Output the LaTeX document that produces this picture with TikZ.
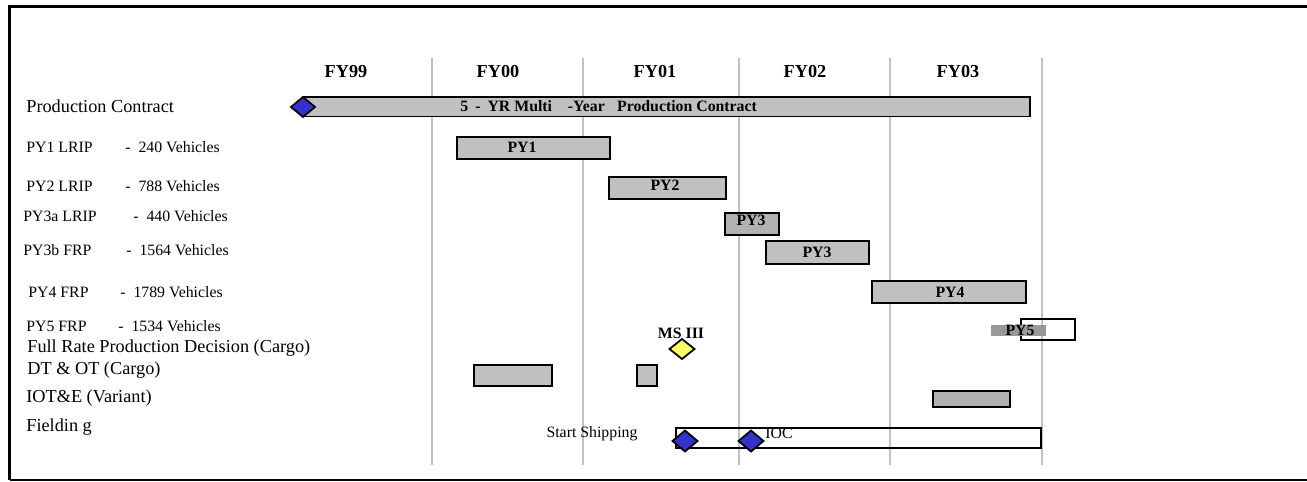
\documentclass[tikz,border=0pt]{standalone}
\usepackage{fontspec}
\setmainfont{Liberation Serif}
\definecolor{barfill}{HTML}{C0C0C0}
\definecolor{bardark}{HTML}{B2B2B2}
\definecolor{pyfive}{HTML}{999999}
\definecolor{gridgray}{HTML}{C0C0C0}
\definecolor{msblue}{HTML}{3333CC}
\definecolor{msyellow}{HTML}{FFFF66}

\begin{document}
\begin{tikzpicture}[
  x=0.02cm,
  y=-0.02cm,
  bar/.style={draw=black, line width=1.1pt, fill=barfill},
  openbar/.style={draw=black, line width=1.1pt},
  milestone/.style={draw=black, line width=1pt, fill=msblue},
  rowlabel/.style={anchor=west, inner sep=0pt, font=\fontsize{10.4}{12}\selectfont},
  pylabel/.style={anchor=west, inner sep=0pt, font=\fontsize{9}{11}\selectfont},
  barlabel/.style={inner sep=0pt, font=\fontsize{9}{11}\selectfont\bfseries},
  note/.style={inner sep=0pt, font=\fontsize{9}{11}\selectfont}
]
\useasboundingbox (0,0) rectangle (1307,481);

% frame
\draw[line width=1.7pt] (9.5,480) -- (9.5,6.5) -- (1307,6.5);
\draw[line width=0.6pt] (9.5,480) -- (1307,480);

% fiscal years
\foreach \x in {432,583,739,890,1042} {
  \draw[gridgray, line width=1pt] (\x,58) -- (\x,465);
}
\foreach \x/\fy in {346/FY99,498/FY00,655/FY01,805/FY02,958/FY03} {
  \node[barlabel, font=\fontsize{10.4}{12}\selectfont\bfseries] (\fy) at (\x,72) {\fy};
}

% row labels
\node[rowlabel] (contract) at (26,106) {Production Contract};
\foreach \n/\y/\lx/\nm/\dx/\cnt in {1/147/26/PY1 LRIP/125/240,
  2/186/26/PY2 LRIP/125/788, 3/216/23/PY3a LRIP/133/440,
  4/250/23/PY3b FRP/126/1564, 5/292/28/PY4 FRP/120/1789,
  6/326/26/PY5 FRP/118/1534} {
  \node[pylabel] (py-name-\n) at (\lx,\y) {\nm};
  \node[pylabel] (py-count-\n) at (\dx,\y) {-\hspace{4.5pt}\cnt{} Vehicles};
}
\node[rowlabel] (decision) at (27,348) {Full Rate Production Decision (Cargo)};
\node[rowlabel] (dtot) at (27,370) {DT \& OT (Cargo)};
\node[rowlabel] (iote) at (26,398) {IOT\&E (Variant)};
\node[rowlabel] (fielding) at (26,427) {Fieldin g};

% production contract
\draw[bar] (303,97) rectangle (1030,116.5);
\draw[milestone, shift={(303,107)}] (-12,0) -- (0,-10) -- (12,0) -- (0,10) -- cycle;
\node[barlabel, anchor=west] (contract-bar) at (460,106)
  {5\hspace{4pt}-\hspace{4pt}YR Multi\hspace{9pt}-Year\hspace{7pt}Production Contract};

% program years
\draw[bar] (457,137) rectangle (610,159);
\node[barlabel] (py1) at (522,147) {PY1};
\draw[bar] (609,177) rectangle (726,199);
\node[barlabel] (py2) at (665,185) {PY2};
\draw[bar, fill=bardark] (725,213) rectangle (779,235);
\node[barlabel] (py3a) at (751,220) {PY3};
\draw[bar] (766,241) rectangle (869,264);
\node[barlabel] (py3b) at (817,252) {PY3};
\draw[bar] (872,281) rectangle (1026,303);
\node[barlabel] (py4) at (950,292) {PY4};
\draw[openbar] (1021,319) rectangle (1075,340);
\fill[pyfive] (991,325) rectangle (1046,336);
\node[barlabel] (py5) at (1020,330) {PY5};

% decision and tests
\node[barlabel] (ms3) at (681,333) {MS III};
\draw[milestone, fill=msyellow, shift={(682,349)}] (-12.5,0) -- (0,-10) -- (12.5,0) -- (0,10) -- cycle;
\draw[bar] (474,365) rectangle (552,386);
\draw[bar] (637,365) rectangle (657,386);
\draw[bar, fill=bardark] (933,391) rectangle (1010,407);

% fielding
\draw[openbar] (676,428) rectangle (1041,448);
\draw[milestone, shift={(685,441)}] (-12.5,0) -- (0,-10.5) -- (12.5,0) -- (0,10.5) -- cycle;
\draw[milestone, shift={(751,441)}] (-12.5,0) -- (0,-10.5) -- (12.5,0) -- (0,10.5) -- cycle;
\node[note] (shipping) at (592,434) {Start Shipping};
\node[note] (ioc) at (779,433) {IOC};
\end{tikzpicture}
\end{document}
